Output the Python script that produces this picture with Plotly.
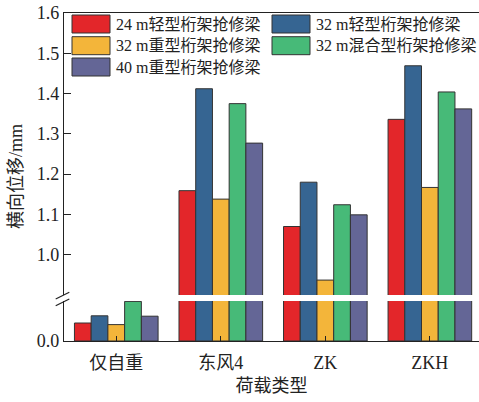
import plotly.graph_objects as go

categories = ["仅自重", "东风4", "ZK", "ZKH"]
series_names = ["24 m轻型桁架抢修梁", "32 m轻型桁架抢修梁", "32 m重型桁架抢修梁",
                "32 m混合型桁架抢修梁", "40 m重型桁架抢修梁"]
v_24_light = [0.045, 1.159, 1.070, 1.336]
v_32_light = [0.063, 1.412, 1.180, 1.469]
v_32_heavy = [0.041, 1.138, 0.937, 1.167]
v_32_mixed = [0.099, 1.375, 1.124, 1.404]
v_40_heavy = [0.062, 1.277, 1.099, 1.362]
series_values = [v_24_light, v_32_light, v_32_heavy, v_32_mixed, v_40_heavy]
colors = ["#E3262A", "#366592", "#F3B53A", "#47BA78", "#646696"]

upper_ticks = [1.0, 1.1, 1.2, 1.3, 1.4, 1.5, 1.6]
lower_ticks = [0.0]

FONT = "Liberation Serif, Noto Sans CJK SC, serif"
EDGE = "#333333"

fig = go.Figure()
for name, vals, col in zip(series_names, series_values, colors):
    fig.add_trace(go.Bar(x=categories, y=vals, name=name, marker_color=col,
                         marker_line=dict(color=EDGE, width=1),
                         xaxis="x", yaxis="y", showlegend=False))
    fig.add_trace(go.Bar(x=categories, y=vals, name=name, marker_color=col,
                         marker_line=dict(color=EDGE, width=1),
                         xaxis="x2", yaxis="y2", showlegend=False))

# pixel geometry of the plot area
L, R, T, B = 64, 479, 13, 341
W_PLOT, H_PLOT = R - L, B - T


def px_x(px):
    return (px - L) / W_PLOT


def px_y(py):
    return (B - py) / H_PLOT


low_top = px_y(301)
up_bot = px_y(295)

axis_common = dict(linecolor="#222222", linewidth=1.2, showgrid=False, zeroline=False,
                   automargin=False,
                   tickfont=dict(family=FONT, size=18, color="#222222"))

shapes = [
    dict(type="line", xref="paper", yref="paper", x0=px_x(55.7), x1=px_x(69.3),
         y0=px_y(299), y1=px_y(292.3), line=dict(color="#222222", width=1.2)),
    dict(type="line", xref="paper", yref="paper", x0=px_x(55.7), x1=px_x(69.3),
         y0=px_y(305.7), y1=px_y(299), line=dict(color="#222222", width=1.2)),
]
annotations = [dict(text="横向位移/mm", xref="paper", yref="paper", x=px_x(16), y=0.5,
                    xanchor="center", yanchor="middle", textangle=-90, showarrow=False,
                    font=dict(family=FONT, size=18, color="#222222"))]

# custom legend (large swatches like the reference), row-wise in two columns
col_x = [72, 272]
row_y = [15, 36.7, 58]
for i, (name, col) in enumerate(zip(series_names, colors)):
    r, c = divmod(i, 2)
    x0, y0 = col_x[c], row_y[r]
    shapes.append(dict(type="rect", xref="paper", yref="paper",
                       x0=px_x(x0), x1=px_x(x0 + 38), y0=px_y(y0 + 18), y1=px_y(y0),
                       fillcolor=col, line=dict(color=EDGE, width=1)))
    annotations.append(dict(text=name, xref="paper", yref="paper",
                            x=px_x(x0 + 42), y=px_y(y0 + 9), xanchor="left",
                            yanchor="middle", showarrow=False,
                            font=dict(family=FONT, size=16, color="#222222")))

fig.update_layout(
    width=479, height=402,
    margin=dict(l=L, r=479 - R, t=T, b=402 - B, autoexpand=False),
    paper_bgcolor="white", plot_bgcolor="white",
    barmode="group", bargap=0.2, bargroupgap=0,
    font=dict(family=FONT, color="#222222"),
    showlegend=False,
    xaxis=dict(axis_common, domain=[0, 1], anchor="y", type="category",
               range=[-0.5, 3.47], showline=True, ticks="inside", ticklen=5,
               tickcolor="#222222", ticklabelstandoff=5,
               title=dict(text="荷载类型", font=dict(family=FONT, size=18), standoff=7)),
    xaxis2=dict(axis_common, domain=[0, 1], anchor="y2", type="category",
                range=[-0.5, 3.47], showline=True, side="top", ticks="",
                showticklabels=False, matches="x"),
    yaxis=dict(axis_common, domain=[0, low_top], anchor="x", range=[0, 0.1],
               tickvals=lower_ticks, ticktext=["0.0"], showline=True,
               ticks="inside", ticklen=7, tickcolor="#222222"),
    yaxis2=dict(axis_common, domain=[up_bot, 1], anchor="x2", range=[0.9, 1.6],
                tickvals=upper_ticks, ticktext=[f"{t:.1f}" for t in upper_ticks],
                showline=True, ticks="inside", ticklen=7, tickcolor="#222222"),
    shapes=shapes,
    annotations=annotations,
)

fig.write_html("out.html", config={"displayModeBar": False},
               post_script="document.body.style.margin='0';document.body.style.overflow='hidden';")
